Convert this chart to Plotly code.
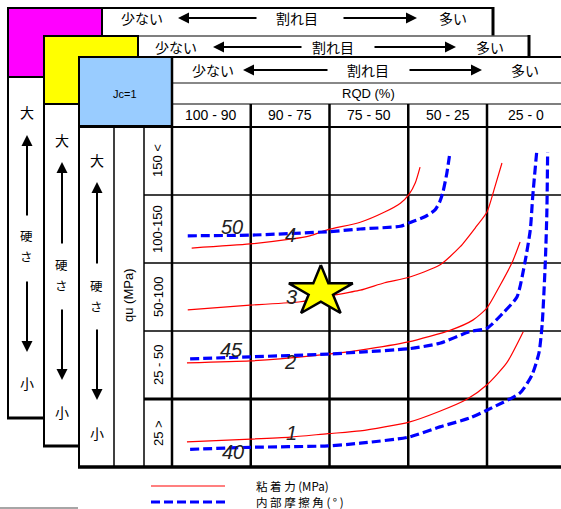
import math
import plotly.graph_objects as go

W, H = 561, 509

# ---------------- data ----------------
rqd_labels = ["100 - 90", "90 - 75", "75 - 50", "50 - 25", "25 - 0"]
qu_labels = ["150 <", "100-150", "50-100", "25 - 50", "25 >"]

# grid units: x = RQD column (0..5, left to right), y = qu row (0..5, bottom to top)
coh1_x = [0.19, 1.00, 1.50, 1.98, 2.39, 3.01, 3.40, 3.75, 4.00, 4.25, 4.46]
coh1_y = [0.37, 0.41, 0.44, 0.49, 0.53, 0.66, 0.82, 1.00, 1.21, 1.53, 1.99]
coh2_x = [0.19, 0.99, 1.37, 1.98, 2.39, 3.00, 3.53, 3.82, 4.00, 4.17, 4.32, 4.42]
coh2_y = [1.53, 1.56, 1.59, 1.66, 1.72, 1.84, 2.01, 2.16, 2.34, 2.68, 3.01, 3.31]
coh3_x = [0.20, 0.99, 1.63, 1.98, 2.39, 2.70, 3.01, 3.40, 3.66, 3.86, 4.00, 4.10, 4.19]
coh3_y = [2.31, 2.38, 2.43, 2.51, 2.60, 2.71, 2.79, 2.97, 3.24, 3.53, 3.75, 4.12, 4.47]
coh4_x = [0.25, 0.99, 1.50, 1.75, 1.98, 2.39, 2.70, 2.90, 3.01, 3.09, 3.15]
coh4_y = [3.22, 3.28, 3.35, 3.40, 3.49, 3.60, 3.75, 3.88, 4.01, 4.18, 4.41]
coh_labels = ["1", "2", "3", "4"]
coh_label_x = [1.52, 1.50, 1.52, 1.51]
coh_label_y = [0.50, 1.54, 2.50, 3.41]

fri50_x = [0.20, 0.99, 1.98, 2.39, 2.90, 3.01, 3.21, 3.34, 3.40, 3.44, 3.49, 3.53]
fri50_y = [3.40, 3.41, 3.46, 3.50, 3.54, 3.59, 3.68, 3.78, 3.90, 4.04, 4.32, 4.63]
fri45_x = [0.23, 0.99, 1.98, 2.39, 3.01, 3.40, 3.78, 4.00, 4.20, 4.38, 4.48, 4.55, 4.58, 4.63]
fri45_y = [1.59, 1.62, 1.66, 1.69, 1.74, 1.82, 1.99, 2.04, 2.26, 2.50, 3.00, 3.49, 3.97, 4.62]
fri40_x = [0.23, 0.99, 1.98, 2.39, 3.01, 3.40, 3.78, 4.06, 4.42, 4.57, 4.66, 4.70, 4.74, 4.76, 4.77]
fri40_y = [0.26, 0.29, 0.31, 0.35, 0.44, 0.59, 0.72, 0.87, 1.09, 1.35, 1.68, 2.09, 3.00, 3.74, 4.63]
fri_labels = ["40", "45", "50"]
fri_label_x = [0.77, 0.76, 0.76]
fri_label_y = [0.22, 1.72, 3.53]

star_x = [1.89]
star_y = [2.58]

# ---------------- layout geometry (pixels) ----------------
GX0, GX1, GY0, GY1 = 172, 561, 127, 467
COLW = 78.75
ROWH = (GY1 - GY0) / 5.0

CJK = "Noto Sans CJK JP, Noto Sans, sans-serif"
LAT = "Liberation Sans, Arial, sans-serif"

fig = go.Figure()

shapes = []
ann = []


def rect(x0, y0, x1, y1, fill, lw=0, lc="black"):
    shapes.append(dict(type="rect", xref="x", yref="y", x0=x0, y0=y0, x1=x1, y1=y1,
                       fillcolor=fill, line=dict(width=lw, color=lc), layer="below"))


def line(x0, y0, x1, y1, lw=2, lc="black", dash=None):
    d = dict(width=lw, color=lc)
    if dash:
        d["dash"] = dash
    shapes.append(dict(type="line", xref="x", yref="y", x0=x0, y0=y0, x1=x1, y1=y1,
                       line=d, layer="below"))


def text(x, y, s, size=14, fam=CJK, xref="x", yref="y", angle=0, xanchor="center",
         color="black", yanchor="middle"):
    ann.append(dict(x=x, y=y, xref=xref, yref=yref, text=s, showarrow=False, textangle=angle,
                    xanchor=xanchor, yanchor=yanchor, borderpad=0,
                    font=dict(size=size, family=fam, color=color)))


def arrow(hx, hy, tx, ty):
    ann.append(dict(x=hx, y=hy, ax=tx, ay=ty, xref="x", yref="y", axref="x", ayref="y",
                    text="", showarrow=True, arrowhead=2, arrowsize=1.1, arrowwidth=2,
                    arrowcolor="black", standoff=0, startstandoff=0))


# ---- back panel (magenta) ----
rect(8, 8, 493, 418, "white")
line(8, 8, 493, 8, 2)
line(8, 8, 8, 418, 2)
line(493, 7, 493, 36, 3)
line(7, 418, 44, 418, 3)
rect(8, 8, 102, 77, "#FF00FF", 2)

# ---- middle panel (yellow) ----
rect(44, 36, 529, 446, "white")
line(44, 36, 529, 36, 1.5, "#555")
line(44, 36, 44, 446, 2)
line(529, 35, 529, 57, 3)
line(43, 446, 79, 446, 3)
rect(44, 36, 138, 104, "#FFFF00", 2)

# ---- front panel ----
rect(79, 57, 562, 467, "white")
line(79, 57, 562, 57, 2)
line(79, 57, 79, 468, 2)
line(78, 467, 562, 467, 3.5)
rect(79, 57, 172, 126, "#99CCFF", 2)
line(172, 83, 562, 83, 2, "#888")
line(172, 104, 562, 104, 1.2)
line(79, 127, 562, 127, 2)
line(114, 127, 114, 467, 1.5)
line(144, 127, 144, 467, 1.5)
line(172, 57, 172, 467, 2.5)

# grid lines (column / row boundaries)
for i in range(1, 5):
    xp = GX0 + i * COLW
    line(xp, 104, xp, 467, 2.5)
row_w = {1: 3, 2: 1.5, 3: 1.5, 4: 1.5}
for j in range(1, 5):
    yp = GY1 - j * ROWH
    line(144, yp, 562, yp, row_w[j])

# bottom-left grey rule
line(0, 508, 78, 508, 1.5, "#888")

# legend samples
line(151, 486, 225, 486, 1.2, "red")
line(151, 502, 225, 502, 3, "blue", "9px,4px")
text(255, 486, "粘 着 力 (MPa)", 11.5, CJK, xanchor="left")
text(255, 502, "内 部 摩 擦 角 ( ° )", 11.5, CJK, xanchor="left")

# header rows
for (y, xs, la, ra) in [
    (18, (142, 297, 453), (178, 258), (342, 417)),
    (47, (176, 333, 490), (213, 303), (373, 456)),
    (70, (213, 368, 525), (243, 329), (408, 482)),
]:
    text(xs[0], y, "少ない", 14)
    text(xs[1], y, "割れ目", 14)
    text(xs[2], y, "多い", 14)
    arrow(la[0], y, la[1], y)
    arrow(ra[1], y, ra[0], y)

text(125, 94, "Jc=1", 11, LAT)
text(368, 93, "RQD (%)", 13, LAT)
for i, lab in enumerate(rqd_labels):
    text(i + 0.5, 115, lab, 14, LAT, xref="x2")
for i, lab in enumerate(qu_labels):
    text(158, 4.5 - i, lab, 13, LAT, yref="y2", angle=-90)
text(128, 296, "qu (MPa)", 13, LAT, angle=-90)

# hardness columns
for (cx, tops) in [(27, (112, 135, 217, 246, 280, 352, 383)),
                   (62, (140, 162, 245, 275, 308, 380, 412)),
                   (97, (160, 182, 265, 296, 328, 400, 433))]:
    yd, ah, at, ym, bt, bh, yx = tops
    text(cx, yd, "大", 14)
    arrow(cx, ah, cx, at)
    text(cx - 1, ym, "硬", 12.5, yanchor="bottom")
    text(cx - 1, ym, "さ", 12.5, yanchor="top")
    arrow(cx, bh, cx, bt)
    text(cx, yx, "小", 14)

# ---------------- traces on grid axes ----------------
for xs, ys in [(coh1_x, coh1_y), (coh2_x, coh2_y), (coh3_x, coh3_y), (coh4_x, coh4_y)]:
    fig.add_trace(go.Scatter(x=xs, y=ys, xaxis="x2", yaxis="y2", mode="lines",
                             line=dict(color="red", width=1.2, shape="spline", smoothing=0.6),
                             showlegend=False, hoverinfo="skip"))
for xs, ys in [(fri40_x, fri40_y), (fri45_x, fri45_y), (fri50_x, fri50_y)]:
    fig.add_trace(go.Scatter(x=xs, y=ys, xaxis="x2", yaxis="y2", mode="lines",
                             line=dict(color="blue", width=3.2, dash="9px,4px", shape="spline", smoothing=0.6),
                             showlegend=False, hoverinfo="skip"))

# star polygon around the star centre
RX, RY, RIN = 33.6 / COLW, 26.5 / ROWH, 0.382
px, py = [], []
for k in range(11):
    r = 1.0 if k % 2 == 0 else RIN
    th = math.pi * k / 5
    px.append(star_x[0] + RX * r * math.sin(th))
    py.append(star_y[0] + RY * r * math.cos(th))
fig.add_trace(go.Scatter(x=px, y=py, xaxis="x2", yaxis="y2", mode="lines", fill="toself",
                         fillcolor="#FFFF00", line=dict(color="black", width=2.5),
                         showlegend=False, hoverinfo="skip"))

for s, x, y in zip(coh_labels, coh_label_x, coh_label_y):
    text(x, y, "<i>" + s + "</i>", 20, LAT, xref="x2", yref="y2", color="#222")
for s, x, y in zip(fri_labels, fri_label_x, fri_label_y):
    text(x, y, "<i>" + s + "</i>", 20, LAT, xref="x2", yref="y2", color="#222")

fig.update_layout(
    width=W, height=H, margin=dict(l=0, r=0, t=0, b=0),
    paper_bgcolor="white", plot_bgcolor="rgba(0,0,0,0)",
    xaxis=dict(range=[0, W], domain=[0, 1], visible=False, fixedrange=True),
    yaxis=dict(range=[H, 0], domain=[0, 1], visible=False, fixedrange=True),
    xaxis2=dict(range=[0, (GX1 - GX0) / COLW], domain=[GX0 / W, 1], anchor="y2",
                visible=False, fixedrange=True),
    yaxis2=dict(range=[0, 5], domain=[(H - GY1) / H, (H - GY0) / H], anchor="x2",
                visible=False, fixedrange=True),
    shapes=shapes, annotations=ann, showlegend=False,
)

fig.write_html("out.html", config={"displayModeBar": False, "staticPlot": True},
               post_script="document.body.style.margin='0';document.body.style.overflow='hidden';")
